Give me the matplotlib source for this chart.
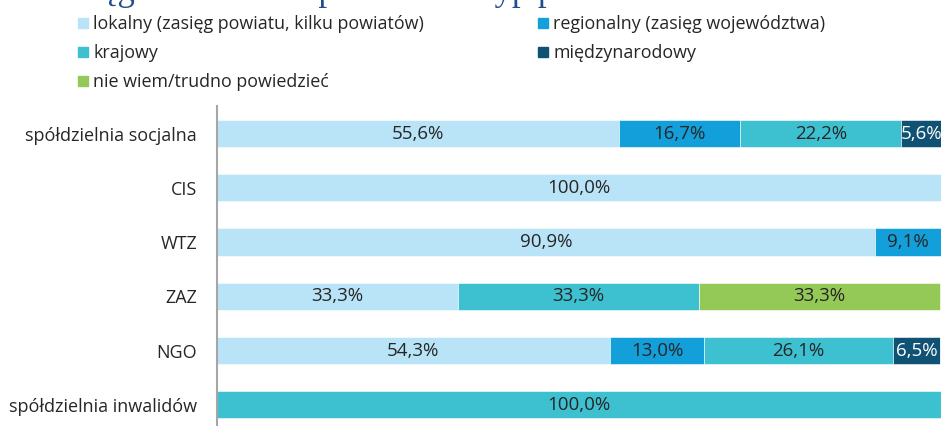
import matplotlib
matplotlib.use("Agg")
import matplotlib.pyplot as plt
from matplotlib.lines import Line2D
import numpy as np

plt.rcParams['font.family'] = ['Open Sans', 'DejaVu Sans']

categories = ["spółdzielnia socjalna", "CIS", "WTZ", "ZAZ", "NGO", "spółdzielnia inwalidów"]
series_names = ["lokalny (zasięg powiatu, kilku powiatów)", "regionalny (zasięg województwa)",
                "krajowy", "międzynarodowy", "nie wiem/trudno powiedzieć"]
lokalny = [55.6, 100.0, 90.9, 33.3, 54.3, 0.0]
regionalny = [16.7, 0.0, 9.1, 0.0, 13.0, 0.0]
krajowy = [22.2, 0.0, 0.0, 33.3, 26.1, 100.0]
miedzynarodowy = [5.6, 0.0, 0.0, 0.0, 6.5, 0.0]
nie_wiem = [0.0, 0.0, 0.0, 33.3, 0.0, 0.0]
series = [lokalny, regionalny, krajowy, miedzynarodowy, nie_wiem]
colors = ["#B9E3F7", "#129FDA", "#3DC0CF", "#0F5274", "#95C957"]
label_colors = ["#262626", "#262626", "#262626", "#FFFFFF", "#262626"]
title = "Zasięg działalności podmiotu a typ podmiotu"

W, H = 942, 426
fig = plt.figure(figsize=(W / 100, H / 100), dpi=100)
ax = fig.add_axes([216.5 / W, (H - 432) / H, (941 - 216.5) / W, (432 - 106.4) / H])

y = np.arange(len(categories))
left = np.zeros(len(categories))
for vals, col, lc in zip(series, colors, label_colors):
    vals = np.array(vals)
    bars = ax.barh(y, vals, left=left, height=0.5, color=col, edgecolor='white', linewidth=0.4)
    for b, v in zip(bars, vals):
        if v > 0:
            ax.text(b.get_x() + b.get_width() / 2, b.get_y() + b.get_height() / 2,
                    f"{v:.1f}%".replace('.', ','), ha='center', va='center',
                    fontsize=13.5, color=lc)
    left += vals

ax.set_xlim(0, 100)
ax.set_ylim(len(categories) - 0.5, -0.5)
ax.set_yticks(y)
ax.set_yticklabels(categories, fontsize=13, color="#262626")
ax.tick_params(axis='y', length=0, pad=14)
ax.set_xticks([])
for s in ['top', 'right', 'bottom']:
    ax.spines[s].set_visible(False)
ax.spines['left'].set_color('#A6A6A6')
ax.spines['left'].set_linewidth(1.5)

order = [0, 2, 4, 1, 3]
handles = [Line2D([], [], marker='s', linestyle='none', markersize=7.5,
                  markerfacecolor=colors[i], markeredgecolor=colors[i]) for i in order]
labels = [series_names[i] for i in order]
fig.legend(handles, labels, ncol=2, loc='upper left', bbox_to_anchor=(78 / W, 1 - 15 / H),
           frameon=False, fontsize=12.9, handlelength=0.6, handletextpad=0.25,
           columnspacing=6.35, labelspacing=0.61, borderaxespad=0, borderpad=0,
           labelcolor="#262626")

fig.text(42 / W, 1 + 0.5 / H, title, family=['Liberation Serif', 'DejaVu Serif'],
         fontsize=25, color="#1F4E8C", ha='left', va='baseline')

fig.savefig("out.png", dpi=100)
